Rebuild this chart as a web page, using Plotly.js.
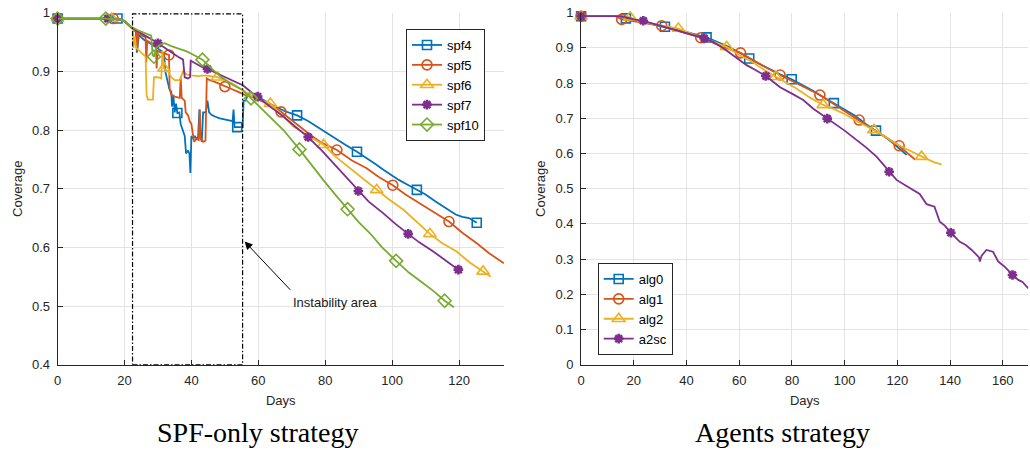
<!DOCTYPE html>
<html><head><meta charset="utf-8">
<script src="https://cdn.plot.ly/plotly-3.0.1.min.js"></script>
<style>html,body{margin:0;padding:0;background:#fff}#chart{width:1030px;height:450px}</style>
</head><body><div id="chart"></div>
<script>
// ---------- SPF-only strategy (left) ----------
const spf4Days = [0,5,10,15,17.9,20,21,22,22.8,23.4,23.7,24.3,25,26,27,28,29,30,31,31.8,32.2,32.8,33.4,34,34.2,34.6,35,35.4,35.8,36.4,36.8,37.4,38,38.4,39,39.4,39.7,40,40.5,41,41.5,42,42.4,42.7,43.1,43.5,44.3,44.8,45.3,46,47,48.5,50,51.5,52.3,52.6,52.9,53.7,55.3,55.6,56.2,57,58,60,62.5,65,68,71.6,75,78,80.5,83,86,89.5,92,95,97.5,100,102,104.5,107.4,110,113,116,119,121,123,125.3];
const spf4Cov = [0.99,0.99,0.99,0.99,0.99,0.986,0.981,0.975,0.97,0.968,0.932,0.962,0.958,0.953,0.95,0.946,0.942,0.938,0.935,0.93,0.9,0.885,0.87,0.865,0.84,0.86,0.83,0.845,0.829,0.83,0.81,0.8,0.79,0.76,0.765,0.76,0.727,0.79,0.785,0.79,0.785,0.788,0.835,0.79,0.78,0.83,0.83,0.85,0.83,0.826,0.823,0.82,0.818,0.815,0.815,0.835,0.805,0.805,0.805,0.85,0.85,0.862,0.858,0.856,0.848,0.84,0.832,0.825,0.815,0.804,0.795,0.785,0.775,0.763,0.754,0.742,0.732,0.722,0.715,0.707,0.698,0.69,0.678,0.667,0.656,0.652,0.65,0.642];
const spf5Days = [0,5,10,16.6,19,20,21,22,23,23.6,23.8,24.1,25,26.3,26.5,26.8,28,29.4,29.6,29.9,31,32,33.3,33.5,34,35,36.5,36.8,37.1,38,38.3,39,39.5,40,40.4,40.8,41.5,42.2,42.5,42.8,43.5,44.2,44.6,45.5,47,48.5,50,52,54,56,58,60,63.5,66.8,71,75.5,79,83.5,88,92.4,96,100.2,104,109.3,113,117,121,125.3,129,133.4];
const spf5Cov = [0.99,0.99,0.99,0.99,0.988,0.985,0.98,0.975,0.97,0.968,0.935,0.965,0.962,0.958,0.915,0.952,0.948,0.944,0.905,0.935,0.932,0.93,0.928,0.87,0.86,0.857,0.855,0.89,0.855,0.85,0.83,0.825,0.815,0.81,0.79,0.78,0.785,0.783,0.835,0.785,0.78,0.782,0.888,0.885,0.882,0.878,0.874,0.87,0.865,0.86,0.857,0.852,0.843,0.831,0.812,0.792,0.778,0.766,0.748,0.735,0.72,0.706,0.69,0.672,0.658,0.644,0.625,0.607,0.59,0.573];
const spf6Days = [0,5,10,16.2,19,20,21,22,22.5,22.7,23,23.5,24.5,25.5,26.3,26.6,27,28.5,28.8,30,31,31.3,31.8,33,34,35,36.5,37.5,38.5,40,42,44,46,47.8,50,52,54,56,58,60.5,63.6,67,70.5,75,79.5,83,87.4,91,95.4,99,103.4,107,111.3,115,119.3,123,127.2,129.5];
const spf6Cov = [0.99,0.99,0.99,0.99,0.988,0.985,0.98,0.975,0.972,0.94,0.96,0.94,0.935,0.93,0.925,0.86,0.852,0.852,0.89,0.89,0.888,0.935,0.905,0.9,0.89,0.885,0.885,0.9,0.895,0.893,0.892,0.893,0.892,0.89,0.885,0.88,0.873,0.865,0.858,0.852,0.845,0.826,0.806,0.79,0.775,0.755,0.735,0.717,0.698,0.682,0.664,0.645,0.623,0.607,0.593,0.575,0.559,0.55];
const spf7Days = [0,5,10,15,19,20,21,22,24,26,28,30,32,34,36,37.5,38,39,39.6,39.8,41,43,44.8,47,50,53,55.5,58,59.8,63,67.5,71,74.9,79,82.4,86,89.9,93,97.4,101,104.8,108,112.3,116,119.8];
const spf7Cov = [0.99,0.99,0.99,0.99,0.988,0.985,0.98,0.975,0.968,0.962,0.955,0.948,0.94,0.933,0.925,0.92,0.89,0.888,0.89,0.918,0.914,0.908,0.904,0.898,0.89,0.882,0.876,0.864,0.857,0.842,0.823,0.806,0.788,0.765,0.744,0.72,0.696,0.678,0.658,0.64,0.623,0.609,0.593,0.577,0.562];
const spf10Days = [0,5,10,14.4,19,20,21,22,24,26,28,28.4,28.8,29.5,30.5,32,34,36.6,38.6,41,43.3,46,49,52,55.4,57.8,60,63.5,67.5,72.3,75.5,79.4,83,86.7,90,93.4,97,101.2,105,109.3,112.5,115.7,118.5];
const spf10Cov = [0.99,0.99,0.99,0.99,0.988,0.985,0.98,0.976,0.97,0.965,0.961,0.928,0.925,0.94,0.945,0.948,0.943,0.938,0.934,0.927,0.92,0.905,0.89,0.878,0.868,0.854,0.842,0.823,0.8,0.767,0.743,0.715,0.69,0.665,0.643,0.624,0.6,0.577,0.557,0.539,0.525,0.509,0.498];
// days at which a marker is shown
const spf4Marks = [0,17.9,35.8,53.7,71.6,89.5,107.4,125.3];
const spf5Marks = [0,16.6,33.3,50,66.8,83.5,100.2,117];
const spf6Marks = [0,16.2,31.8,47.8,63.6,79.5,95.4,111.3,127.2];
const spf7Marks = [0,15,30,44.8,59.8,74.9,89.9,104.8,119.8];
const spf10Marks = [0,14.4,28.8,43.3,57.8,72.3,86.7,101.2,115.7];

// ---------- Agents strategy (right) ----------
const alg0Days = [0,5,10,14,17,20,25,31.8,36,40,44,47.6,52,56,60,63.8,67,71,75.5,79.9,84,88,91,95.9,100,104,108,111.9,115,118,121,123.5];
const alg0Cov = [0.99,0.99,0.99,0.99,0.984,0.979,0.972,0.96,0.953,0.945,0.937,0.93,0.916,0.903,0.887,0.87,0.857,0.842,0.825,0.811,0.795,0.778,0.764,0.743,0.725,0.707,0.684,0.665,0.648,0.632,0.613,0.596];
const alg1Days = [0,5,10,13,15.4,20,25,30.6,35,40,45.4,50,55,60.5,65,70,75.5,80,85,90.6,95,100,105.5,110,115,120.7,124,126.7];
const alg1Cov = [0.99,0.99,0.99,0.99,0.981,0.976,0.97,0.963,0.952,0.942,0.929,0.915,0.9,0.886,0.866,0.845,0.823,0.806,0.788,0.766,0.745,0.72,0.695,0.672,0.65,0.622,0.6,0.583];
const alg2Days = [0,5,10,14,18.6,22,27,32,36.9,41,45,50,55.2,60,65,70,73.9,78,82,87,91.9,96,100,105,111.1,115,119,123,126,129.2,132,134,136.8];
const alg2Cov = [0.99,0.99,0.99,0.99,0.987,0.975,0.968,0.962,0.955,0.943,0.93,0.918,0.903,0.88,0.86,0.835,0.818,0.8,0.783,0.758,0.738,0.726,0.712,0.69,0.667,0.649,0.63,0.614,0.603,0.591,0.583,0.575,0.569];
const a2scDays = [0,5,10,14.8,18,20,23.6,28,33,37,41,46.7,50,54,56.5,59,62.8,66,70.1,73,75.5,80,84.3,88,93.4,97,100,104.6,108,112.1,114.5,116.9,119.7,123,126,128.5,131.1,134.1,136.1,138,140.3,143.7,146,148.2,151,151.3,152,153.8,156.3,158.3,160.8,163.7,165.9,167.5,169.7];
const a2scCov = [0.99,0.99,0.99,0.99,0.985,0.981,0.977,0.968,0.958,0.95,0.94,0.927,0.917,0.899,0.885,0.87,0.851,0.838,0.82,0.803,0.788,0.77,0.752,0.728,0.699,0.682,0.665,0.638,0.618,0.591,0.57,0.548,0.525,0.51,0.496,0.485,0.456,0.449,0.406,0.395,0.375,0.349,0.34,0.326,0.305,0.293,0.31,0.326,0.321,0.293,0.278,0.255,0.241,0.235,0.217];
const alg0Marks = [0,17,31.8,47.6,63.8,79.9,95.9,111.9];
const alg1Marks = [0,15.4,30.6,45.4,60.5,75.5,90.6,105.5,120.7];
const alg2Marks = [0,18.6,36.9,55.2,73.9,91.9,111.1,129.2];
const a2scMarks = [0,23.6,46.7,70.1,93.4,116.9,140.3,163.7];

// ---------- styling ----------
const C = {blue:'#0072BD', orange:'#D95319', yellow:'#EDB120', purple:'#7E2F8E', green:'#77AC30'};
const SANS = 'Liberation Sans, Arial, Helvetica, sans-serif';
const SERIF = 'Liberation Serif, DejaVu Serif, serif';
const AXC = '#262626';

function pickMarks(days, cov, marks) {
  const x = [], y = [];
  marks.forEach(m => {
    let b = 0;
    days.forEach((d, i) => { if (Math.abs(d - m) < Math.abs(days[b] - m)) b = i; });
    x.push(days[b], null); y.push(cov[b], null);
  });
  return {x, y};
}

const series = [
  {name:'spf4', d:spf4Days, c:spf4Cov, m:spf4Marks, col:C.blue, sym:'square-open', sz:9, mw:1.6, ax:'x', ay:'y', lg:'legend'},
  {name:'spf5', d:spf5Days, c:spf5Cov, m:spf5Marks, col:C.orange, sym:'circle-open', sz:10, mw:1.6, ax:'x', ay:'y', lg:'legend'},
  {name:'spf6', d:spf6Days, c:spf6Cov, m:spf6Marks, col:C.yellow, sym:'triangle-up-open', sz:11, mw:1.6, ax:'x', ay:'y', lg:'legend'},
  {name:'spf7', d:spf7Days, c:spf7Cov, m:spf7Marks, col:C.purple, sym:'asterisk-open', sz:8, mw:2.6, ax:'x', ay:'y', lg:'legend'},
  {name:'spf10', d:spf10Days, c:spf10Cov, m:spf10Marks, col:C.green, sym:'diamond-open', sz:10, mw:1.6, ax:'x', ay:'y', lg:'legend'},
  {name:'alg0', d:alg0Days, c:alg0Cov, m:alg0Marks, col:C.blue, sym:'square-open', sz:9, mw:1.6, ax:'x2', ay:'y2', lg:'legend2'},
  {name:'alg1', d:alg1Days, c:alg1Cov, m:alg1Marks, col:C.orange, sym:'circle-open', sz:10, mw:1.6, ax:'x2', ay:'y2', lg:'legend2'},
  {name:'alg2', d:alg2Days, c:alg2Cov, m:alg2Marks, col:C.yellow, sym:'triangle-up-open', sz:11, mw:1.6, ax:'x2', ay:'y2', lg:'legend2'},
  {name:'a2sc', d:a2scDays, c:a2scCov, m:a2scMarks, col:C.purple, sym:'asterisk-open', sz:8, mw:2.6, ax:'x2', ay:'y2', lg:'legend2'}
];

const traces = [];
series.forEach(s => {
  traces.push({x:s.d, y:s.c, mode:'lines', line:{color:s.col, width:1.8}, showlegend:false,
    legendgroup:s.name, xaxis:s.ax, yaxis:s.ay, hoverinfo:'skip'});
  const mk = pickMarks(s.d, s.c, s.m);
  traces.push({x:mk.x, y:mk.y, mode:'lines+markers', name:s.name, legend:s.lg, legendgroup:s.name,
    connectgaps:false, cliponaxis:false, line:{color:s.col, width:1.8},
    marker:{symbol:s.sym, size:s.sz, color:s.col, line:{color:s.col, width:s.mw}},
    xaxis:s.ax, yaxis:s.ay});
});

const W = 1030, H = 450;
const tickFont = {family:SANS, size:13, color:AXC};
function xAx(dom, range, dtick) {
  return {domain:dom, range:range, dtick:dtick, tick0:0, showgrid:true, gridcolor:'#e3e3e3', gridwidth:1,
    zeroline:false, showline:true, linecolor:AXC, linewidth:1, ticks:'inside', ticklen:5, tickcolor:AXC,
    tickfont:tickFont, ticklabelstandoff:4, title:{text:'Days', font:{family:SANS, size:13, color:AXC}, standoff:8}};
}
function yAx(dom, range, anchor) {
  return {domain:dom, range:range, dtick:0.1, tick0:0, anchor:anchor, showgrid:true, gridcolor:'#e3e3e3', gridwidth:1,
    zeroline:false, showline:true, linecolor:AXC, linewidth:1, ticks:'inside', ticklen:5, tickcolor:AXC,
    tickfont:tickFont, ticklabelstandoff:4, title:{text:'Coverage', font:{family:SANS, size:13, color:AXC}, standoff:6}};
}
const yDom = [1 - 364.7/H, 1 - 12.7/H];
const legendStyle = {bgcolor:'#ffffff', bordercolor:AXC, borderwidth:1, font:{family:SANS, size:13, color:'#000'},
  tracegroupgap:0, itemclick:false};

const layout = {
  width:W, height:H, margin:{l:0, r:0, t:0, b:0}, paper_bgcolor:'#fff', plot_bgcolor:'#fff',
  showlegend:true,
  xaxis: Object.assign(xAx([57.6/W, 504/W], [0, 133.45], 20), {anchor:'y'}),
  yaxis: yAx(yDom, [0.4, 1], 'x'),
  xaxis2: Object.assign(xAx([581.1/W, 1028.3/W], [0, 169.7], 20), {anchor:'y2'}),
  yaxis2: yAx(yDom, [0, 1], 'x2'),
  legend: Object.assign({x:406/W, y:1 - 29/H, xanchor:'left', yanchor:'top'}, legendStyle),
  legend2: Object.assign({x:597.7/W, y:1 - 355/H, xanchor:'left', yanchor:'bottom'}, legendStyle),
  shapes: [{type:'rect', xref:'x', yref:'y', x0:22.4, x1:55.3, y0:0.4, y1:0.998, layer:'above',
    line:{color:'#000', width:1.2, dash:'5px,2px,1.5px,2px'}, fillcolor:'rgba(0,0,0,0)'}],
  annotations: [
    {xref:'x', yref:'y', axref:'x', ayref:'y', x:55.9, y:0.61, ax:70, ay:0.525, text:'', showarrow:true,
      arrowhead:2, arrowsize:1.6, arrowwidth:1, arrowcolor:'#000', standoff:0},
    {xref:'x', yref:'y', x:83.2, y:0.506, text:'Instability area', showarrow:false,
      font:{family:SANS, size:13, color:'#1a1a1a'}},
    {xref:'paper', yref:'paper', x:257.5/W, y:1 - 432/H, xanchor:'center', yanchor:'middle', text:'SPF-only strategy', showarrow:false,
      font:{family:SERIF, size:28, color:'#000'}},
    {xref:'paper', yref:'paper', x:782.5/W, y:1 - 432/H, xanchor:'center', yanchor:'middle', text:'Agents strategy', showarrow:false,
      font:{family:SERIF, size:28, color:'#000'}}
  ]
};

Plotly.newPlot('chart', traces, layout, {displayModeBar:false, staticPlot:true});
</script></body></html>
